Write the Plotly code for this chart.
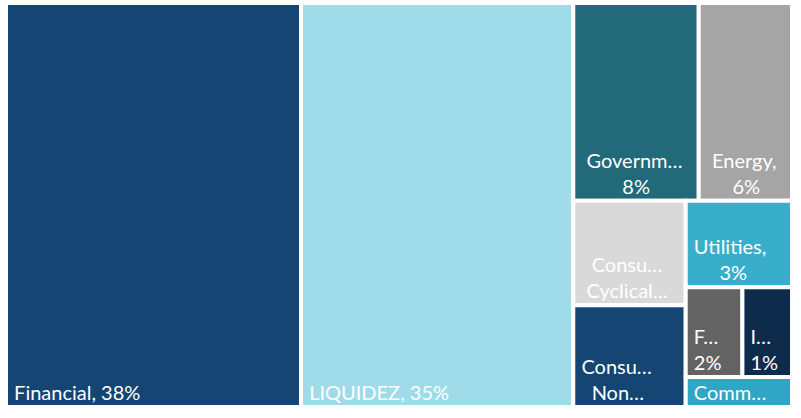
import plotly.graph_objects as go

sectors = ["Financial", "LIQUIDEZ", "Government", "Energy", "Consumer, Cyclical",
           "Consumer, Non-cyclical", "Utilities", "Funds", "Industrial", "Communications"]
weights = [37.5, 34.6, 7.8, 5.8, 3.7, 3.6, 2.9, 1.6, 1.4, 1.0]
NB = "\u00a0"
labels_shown = [NB + "Financial, 38%", NB + "LIQUIDEZ, 35%",
                NB * 2 + "Governm…<br>" + NB * 9 + "8%",
                NB * 2 + "Energy,<br>" + NB * 6 + "6%",
                NB * 3 + "Consu…<br>" + NB * 2 + "Cyclical…",
                NB + "Consu…<br>" + NB * 3 + "Non…",
                NB + "Utilities,<br>" + NB * 6 + "3%",
                NB + "F…<br>" + NB + "2%", NB + "I…<br>" + NB + "1%", NB + "Comm…"]
colors = ["#144573", "#A0DBEA", "#22697A", "#A5A5A5", "#D9D9D9",
          "#144573", "#39AECA", "#636363", "#0F2B4C", "#2FA6C6"]

fig = go.Figure(go.Treemap(
    labels=sectors,
    parents=[""] * len(sectors),
    values=weights,
    text=labels_shown,
    texttemplate="%{text}",
    textposition="bottom left",
    textfont=dict(family="Lato", size=20, color="white"),
    marker=dict(colors=colors, line=dict(color="white", width=4),
                pad=dict(t=0, l=0, r=0, b=0)),
    tiling=dict(packing="squarify", squarifyratio=1.3, pad=0),
    pathbar=dict(visible=False),
    sort=True,
    hoverinfo="label+value",
))
fig.update_layout(
    width=801, height=418,
    margin=dict(l=6, r=9, t=3, b=11),
    paper_bgcolor="white",
    uniformtext=dict(minsize=20, mode="show"),
)
fig.write_html("out.html", config={"displayModeBar": False},
               post_script="document.body.style.margin='0';")
